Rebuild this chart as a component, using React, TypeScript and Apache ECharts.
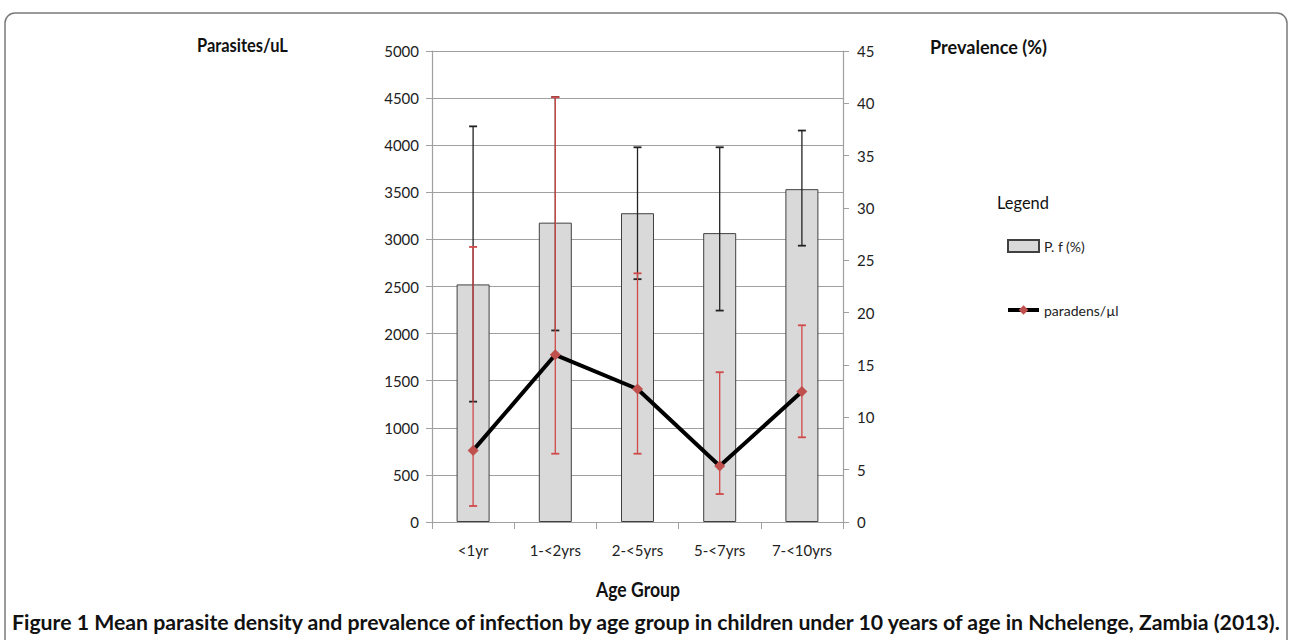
import React, { useEffect, useRef } from "react";
import * as echarts from "echarts";

const categories = ["<1yr", "1-<2yrs", "2-<5yrs", "5-<7yrs", "7-<10yrs"];
const prevalence = [22.7, 28.6, 29.5, 27.6, 31.8];
const prevLow = [11.5, 18.3, 23.2, 20.2, 26.4];
const prevHigh = [37.8, 40.6, 35.8, 35.8, 37.4];
const density = [760, 1775, 1412, 594, 1385];
const densLow = [170, 725, 725, 297, 899];
const densHigh = [2920, 4510, 2640, 1590, 2088];

const FONT = "Lato, 'Open Sans', sans-serif";
const CAPTION =
  "Figure 1 Mean parasite density and prevalence of infection by age group in children under 10 years of age in Nchelenge, Zambia (2013).";

function measure(text: string, font: string): number {
  const c = document.createElement("canvas");
  const ctx = c.getContext("2d")!;
  ctx.font = font;
  return ctx.measureText(text).width || 1;
}

function fitted(text: string, font: string, x: number, y: number, width: number, fill = "#111") {
  const s = width / measure(text, font);
  return {
    type: "text",
    x,
    y,
    scaleX: s,
    style: { text, font, fill, textVerticalAlign: "middle", textAlign: "left" },
    silent: true,
  };
}

function errorSeries(name: string, low: number[], high: number[], axis: number, color: string, z: number) {
  return {
    type: "custom",
    name,
    yAxisIndex: axis,
    z,
    silent: true,
    data: categories.map((_, i) => [i, low[i], high[i]]),
    renderItem: (params: any, api: any) => {
      const i = api.value(0);
      const lo = api.coord([i, api.value(1)]);
      const hi = api.coord([i, api.value(2)]);
      const w = 4;
      const style = { stroke: color, lineWidth: 1.3 };
      return {
        type: "group",
        children: [
          { type: "line", shape: { x1: lo[0], y1: lo[1], x2: hi[0], y2: hi[1] }, style },
          { type: "line", shape: { x1: lo[0] - w, y1: lo[1], x2: lo[0] + w, y2: lo[1] }, style: { ...style, lineWidth: 1.8 } },
          { type: "line", shape: { x1: hi[0] - w, y1: hi[1], x2: hi[0] + w, y2: hi[1] }, style: { ...style, lineWidth: 1.8 } },
        ],
      };
    },
  };
}

export default function App() {
  const ref = useRef<HTMLDivElement>(null);
  useEffect(() => {
    document.body.style.margin = "0";
    const chart = echarts.init(ref.current!, null, { renderer: "svg" });
    const plain = (v: number) => String(v);
    chart.setOption({
      animation: false,
      backgroundColor: "#ffffff",
      textStyle: { fontFamily: FONT },
      grid: { left: 432, right: 447, top: 51, bottom: 118, containLabel: false },
      legend: {
        orient: "vertical",
        left: 1001,
        top: 234,
        itemWidth: 31,
        itemHeight: 12,
        itemGap: 50,
        textStyle: { fontFamily: FONT, fontSize: 14, color: "#222" },
        data: [
          { name: "P. f (%)", icon: "rect" },
          { name: "paradens/µl", lineStyle: { width: 4, color: "#000000" } },
        ],
      },
      xAxis: {
        type: "category",
        data: categories,
        axisLine: { lineStyle: { color: "#a0a0a0", width: 1.2 } },
        axisTick: { show: true, length: 7, lineStyle: { color: "#a0a0a0" } },
        axisLabel: { fontFamily: FONT, fontSize: 15, color: "#222", margin: 20 },
      },
      yAxis: [
        {
          type: "value",
          min: 0,
          max: 5000,
          interval: 500,
          axisLine: { show: true, lineStyle: { color: "#a0a0a0", width: 1.2 } },
          axisTick: { show: true, length: 6, lineStyle: { color: "#a0a0a0" } },
          axisLabel: { fontFamily: FONT, fontSize: 15, color: "#222", margin: 13, formatter: plain },
          splitLine: { show: true, lineStyle: { color: "#a0a0a0", width: 1.2 } },
        },
        {
          type: "value",
          min: 0,
          max: 45,
          interval: 5,
          position: "right",
          axisLine: { show: true, lineStyle: { color: "#a0a0a0", width: 1.2 } },
          axisTick: { show: true, length: 6, lineStyle: { color: "#a0a0a0" } },
          axisLabel: { fontFamily: FONT, fontSize: 15, color: "#222", margin: 14, formatter: plain },
          splitLine: { show: false },
        },
      ],
      series: [
        {
          name: "P. f (%)",
          type: "bar",
          yAxisIndex: 1,
          barWidth: 33,
          z: 2,
          data: prevalence,
          itemStyle: { color: "#d9d9d9", borderColor: "#404040", borderWidth: 1 },
        },
        errorSeries("prevErr", prevLow, prevHigh, 1, "#222222", 3),
        errorSeries("densErr", densLow, densHigh, 0, "#d04848", 4),
        {
          name: "paradens/µl",
          type: "line",
          yAxisIndex: 0,
          z: 5,
          data: density,
          symbol: "diamond",
          symbolSize: 11,
          lineStyle: { color: "#000000", width: 4 },
          itemStyle: { color: "#c0504d" },
        },
      ],
      graphic: [
        {
          type: "rect",
          shape: { x: 5, y: 13, width: 1282, height: 660, r: 10 },
          style: { fill: "none", stroke: "#7a7a7a", lineWidth: 1.5 },
          silent: true,
        },
        fitted("Parasites/uL", `bold 18px ${FONT}`, 197, 45, 91),
        fitted("Prevalence (%)", `bold 19px ${FONT}`, 930, 47, 117),
        fitted("Age Group", `bold 20px ${FONT}`, 596, 589, 84),
        fitted("Legend", `18px ${FONT}`, 997, 202, 52),
        fitted(CAPTION, `bold 20px ${FONT}`, 12, 622, 1271),
      ],
    });
    return () => chart.dispose();
  }, []);
  return <div ref={ref} style={{ width: 1290, height: 640 }} />;
}
